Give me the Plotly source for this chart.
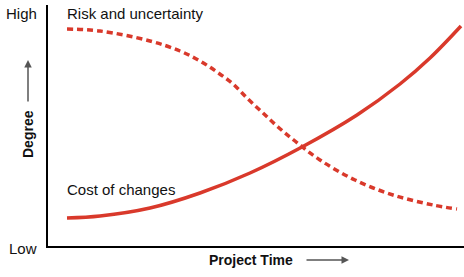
import plotly.graph_objects as go

# Project time (px-like units from the y-axis) and degree (units above the x-axis)
risk_time = [19, 52, 102, 132, 152, 169, 185, 200, 215, 230, 247, 272, 307, 345, 385, 409]
risk_degree = [217, 215, 205, 195, 185, 174, 162, 147, 133, 119, 105, 86, 66, 51, 41, 37]
cost_time = [19, 52, 102, 152, 202, 254, 309, 352, 382, 413]
cost_degree = [28, 30, 38, 53, 73, 99, 131, 162, 188, 220]

red = "#d9392b"
fig = go.Figure()
fig.add_trace(go.Scatter(x=risk_time, y=risk_degree, mode="lines", line=dict(color=red, width=3.5, dash="6px,4px", shape="spline"), hoverinfo="skip"))
fig.add_trace(go.Scatter(x=cost_time, y=cost_degree, mode="lines", line=dict(color=red, width=3.5, shape="spline"), hoverinfo="skip"))

W, H = 416, 241
def px(x):
    return (x - 48) / W
def py(y):
    return (246 - y) / H

font = dict(family="Arial, Liberation Sans", size=15, color="#111")
bold = dict(family="Arial, Liberation Sans", size=14, color="#111")
base = dict(xref="paper", yref="paper", showarrow=False, yanchor="middle")
ann = [
    dict(base, x=px(39), y=py(14), text="High", xanchor="right", font=font),
    dict(base, x=px(39), y=py(248), text="Low", xanchor="right", font=font),
    dict(base, x=px(65), y=py(14), text="Risk and uncertainty", xanchor="left", font=font),
    dict(base, x=px(65), y=py(189), text="Cost of changes", xanchor="left", font=font),
    dict(base, x=px(28), y=py(134), text="<b>Degree</b>", xanchor="center", textangle=-90, font=bold),
    dict(base, x=px(251), y=py(260), text="<b>Project Time</b>", xanchor="center", font=bold),
    dict(x=px(28), y=py(60), xref="paper", yref="paper", ax=0, ay=43, text="", showarrow=True,
         arrowhead=2, arrowsize=1, arrowwidth=1.5, arrowcolor="#555"),
    dict(x=px(349), y=py(260), xref="paper", yref="paper", ax=-44, ay=0, text="", showarrow=True,
         arrowhead=2, arrowsize=1, arrowwidth=1.5, arrowcolor="#555"),
]

fig.update_layout(
    width=464, height=277, margin=dict(l=48, r=0, t=5, b=31),
    paper_bgcolor="white", plot_bgcolor="white", showlegend=False,
    annotations=ann,
    xaxis=dict(range=[0, 416], showline=True, linecolor="black", linewidth=2, showgrid=False, zeroline=False, showticklabels=False, ticks=""),
    yaxis=dict(range=[0, 241], showline=True, linecolor="black", linewidth=2, showgrid=False, zeroline=False, showticklabels=False, ticks=""),
)
fig.write_html("out.html", config={"displayModeBar": False})
